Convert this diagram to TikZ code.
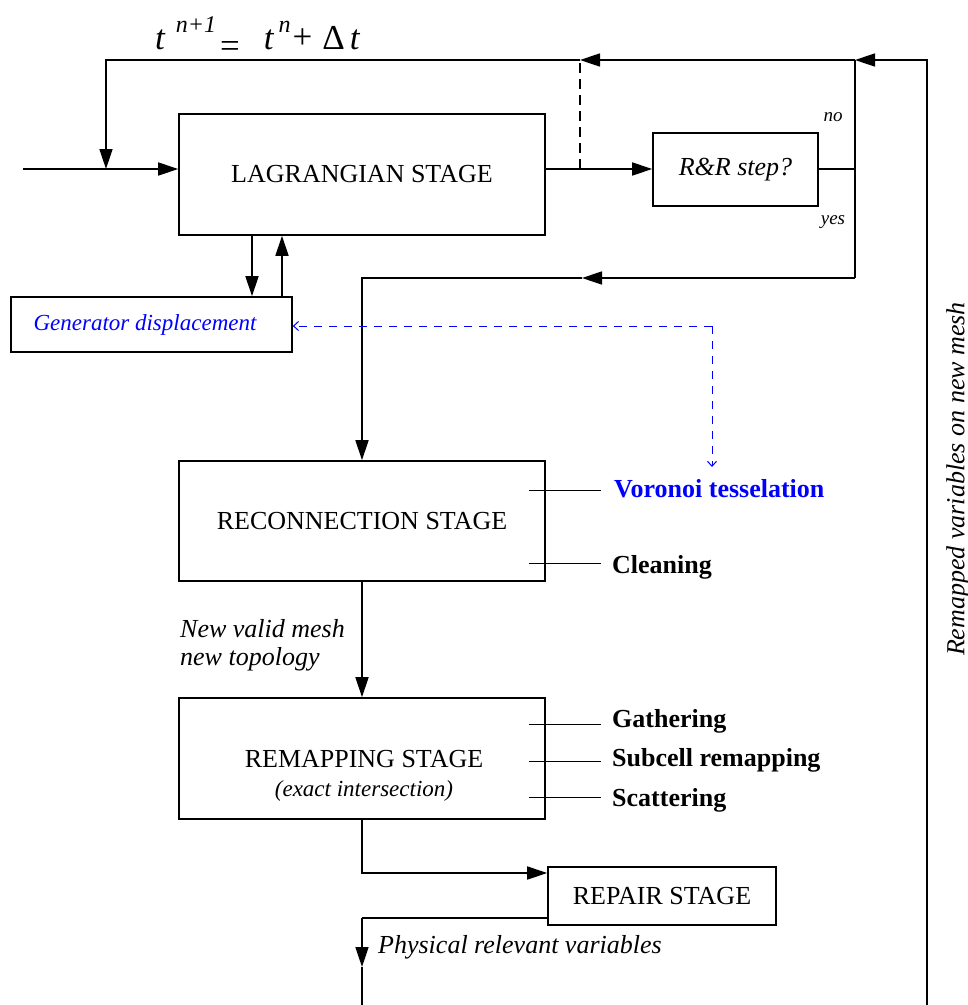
\documentclass[tikz,border=0pt]{standalone}
\usepackage{fontspec}
\setmainfont{Liberation Serif}
\usetikzlibrary{arrows.meta,calc}
\begin{document}
\begin{tikzpicture}[x=1pt,y=-1pt,
  stagebox/.style={draw,line width=1.6pt,inner sep=0pt,font=\fontsize{26}{30}\selectfont},
  flow/.style={line width=1.6pt},
  arr/.style={flow,-{Triangle[length=20pt,width=13pt]}},
  tick/.style={line width=0.8pt},
  blab/.style={font=\fontsize{26}{30}\selectfont\bfseries,anchor=west,inner sep=0pt},
  ilab/.style={font=\fontsize{26}{28}\selectfont\itshape,inner sep=0pt},
  bluedash/.style={draw=blue,line width=1pt,dash pattern=on 8pt off 7pt}
  ]
\useasboundingbox (0,0) rectangle (968,1005);

% formula
\node[anchor=base west,inner sep=0pt,font=\fontsize{35}{38}\selectfont] (form) at (155,49)
  {\itshape t\hspace{11pt}\raisebox{17pt}{\fontsize{24}{24}\selectfont n+1}\hspace{4pt}\upshape\raisebox{-8pt}{=}\hspace{24pt}\itshape t\hspace{5pt}\raisebox{17pt}{\fontsize{24}{24}\selectfont n}\hspace{2pt}\upshape\raisebox{1pt}{+}\hspace{10pt}Δ\hspace{5pt}\itshape t};

% boxes
\node[stagebox,minimum width=366pt,minimum height=121pt] (lag) at (362,174.5) {LAGRANGIAN STAGE};
\node[stagebox,minimum width=165pt,minimum height=73pt,font=\fontsize{26}{30}\selectfont\itshape] (rr) at (735.5,169.5) {R\&R step?};
\node[stagebox,minimum width=281pt,minimum height=55pt,font=\fontsize{23}{27}\selectfont\itshape,text=blue] (gen) at (151.5,324.5) {Generator displacement\hspace*{13pt}};
\node[stagebox,minimum width=366pt,minimum height=120pt] (rec) at (362,521) {RECONNECTION STAGE};
\node[stagebox,minimum width=366pt,minimum height=121pt] (rem) at (362,758.5) {};
\node[inner sep=0pt,font=\fontsize{26}{30}\selectfont] (remt) at (364,759) {REMAPPING STAGE};
\node[inner sep=0pt,font=\fontsize{23}{27}\selectfont\itshape] (remsub) at (364,791) {(exact intersection)};
\node[stagebox,minimum width=228pt,minimum height=58pt] (rep) at (662,896) {REPAIR STAGE};

% labels
\node[inner sep=0pt,font=\fontsize{19}{22}\selectfont\itshape] (no) at (833,117) {no};
\node[inner sep=0pt,font=\fontsize{19}{22}\selectfont\itshape] (yes) at (833,222) {yes};
\node[ilab,anchor=west,align=left] (nvm) at (180,645) {New valid mesh\\new topology};
\node[ilab,anchor=west] (phys) at (378,947) {Physical relevant variables};
\node[ilab,rotate=90] (remv) at (958,479) {Remapped variables on new mesh};
\node[blab,text=blue] (vor) at (614,489) {Voronoi tesselation};
\node[blab] (cle) at (612,567) {Cleaning};
\node[blab] (gat) at (612,721) {Gathering};
\node[blab] (sub) at (612,760) {Subcell remapping};
\node[blab] (sca) at (612,800) {Scattering};

% label ticks
\draw[tick] ($(rec.east |- vor.west)+(-17,1)$) -- ($(vor.west)+(-13,1)$);
\draw[tick] ($(rec.east |- cle.west)+(-17,-4)$) -- ($(cle.west)+(-11,-4)$);
\draw[tick] ($(rem.east |- gat.west)+(-17,3)$) -- ($(gat.west)+(-11,3)$);
\draw[tick] ($(rem.east |- sub.west)+(-17,1)$) -- ($(sub.west)+(-11,1)$);
\draw[tick] ($(rem.east |- sca.west)+(-17,-3)$) -- ($(sca.west)+(-11,-3)$);

% junction coordinates
\coordinate (tr) at (927,60);
\coordinate (bot) at (927,1005);
\coordinate (jn) at (855,60);
\coordinate (jd) at (580,60);
\coordinate (tl) at (106,60);
\coordinate (in) at (23,169);
\coordinate (inj) at (106,169);
\coordinate (dashb) at (580,169);
\coordinate (rrj) at (855,169);
\coordinate (yj) at (855,278);
\coordinate (ya) at (582,278);
\coordinate (yl) at (362,278);
\coordinate (bc) at (712,326);
\coordinate (bend) at (712,467);
\coordinate (r1) at (362,873);
\coordinate (r2) at (362,918);
\coordinate (r3) at (362,967);
\coordinate (r4) at (362,1005);

% connectors
\draw[arr] (bot) -- (tr) -- (jn);
\draw[arr] (jn) -- (jd);
\draw[arr] (jd) -- (tl) -- (inj);
\draw[arr] (in) -- (lag.west |- in);
\draw[arr] (lag.east |- in) -- (rr.west |- in);
\draw[flow] (rr.east |- in) -- (rrj);
\draw[flow] (jn) -- (yj);
\draw[arr] (yj) -- (ya);
\draw[arr] (ya) -- (yl) -- (rec.north);
\draw[flow,dash pattern=on 10pt off 6pt] (dashb) -- (jd);
\draw[arr] ([xshift=-110pt]lag.south) -- ([xshift=-110pt]lag.south |- gen.north);
\draw[arr] ([xshift=-80pt]lag.south |- gen.north) -- ([xshift=-80pt]lag.south);
\draw[bluedash,-{Straight Barb[length=5pt,width=9pt]}] (bc) -- (gen.east |- bc);
\draw[bluedash,-{Straight Barb[length=5pt,width=9pt]}] (bc) -- (bend);
\draw[arr] (rec.south) -- (rem.north);
\draw[arr] (rem.south) -- (r1) -- (rep.west |- r1);
\draw[flow] (rep.west |- r2) -- (r2);
\draw[arr] (r2) -- (r3);
\draw[flow] (r3) -- (r4);
\end{tikzpicture}
\end{document}
